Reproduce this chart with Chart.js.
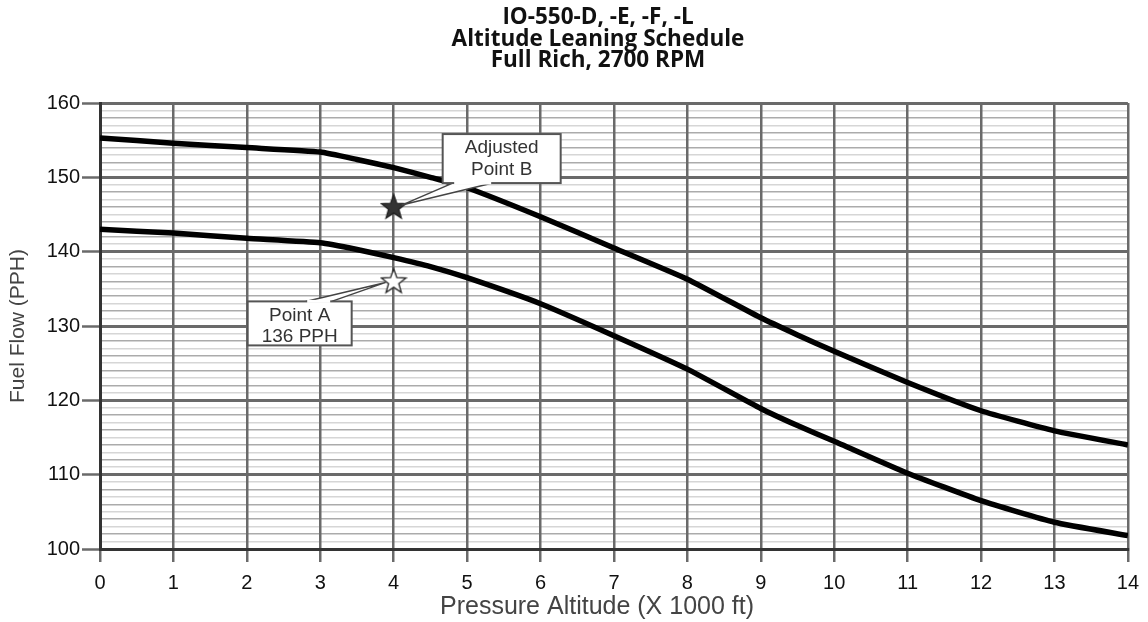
<!DOCTYPE html>
<html>
<head>
<meta charset="utf-8">
<script src="https://cdn.jsdelivr.net/npm/chart.js@4.4.1/dist/chart.umd.min.js"></script>
<style>
    html, body { margin: 0; padding: 0; background: #fff; }
    #wrap { width: 1148px; height: 622px; }
</style>
</head>
<body>
<div id="wrap"><canvas id="mainChart" width="1148" height="622"></canvas></div>
<script>
// Chart values
const altitudeKft = [0, 1, 2, 3, 3.5, 4, 4.5, 5, 6, 7, 8, 9, 9.5, 10, 11, 12, 13, 14];
const upperFlow = [155.3, 154.6, 154.0, 153.4, 152.4, 151.3, 150.0, 148.6, 144.7, 140.5, 136.3, 131.1, 128.8, 126.6, 122.4, 118.6, 115.9, 114.0];
const lowerFlow = [143.0, 142.5, 141.8, 141.2, 140.3, 139.2, 138.0, 136.5, 133.0, 128.7, 124.2, 118.9, 116.6, 114.5, 110.2, 106.5, 103.6, 101.8];
const pointB = { x: 4, y: 146 };
const pointA = { x: 4, y: 136 };
const titleLines = ['IO-550-D, -E, -F, -L', 'Altitude Leaning Schedule', 'Full Rich, 2700 RPM'];
const xTitle = 'Pressure Altitude (X 1000 ft)';
const labelB = ['Adjusted', 'Point B'];
const labelA = ['Point A', '136 PPH'];

const FONT = "'Liberation Sans', Arial, sans-serif";

// five pointed star drawn onto a small canvas, used as point style
function makeStar(fill, stroke) {
    const c = document.createElement('canvas');
    c.width = 28; c.height = 28;
    const g = c.getContext('2d');
    g.beginPath();
    for (let i = 0; i < 10; i++) {
        const r = i % 2 === 0 ? 13 : 5.4;
        const a = -Math.PI / 2 + i * Math.PI / 5;
        const px = 14 + r * Math.cos(a);
        const py = 14.5 + r * Math.sin(a);
        if (i === 0) g.moveTo(px, py); else g.lineTo(px, py);
    }
    g.closePath();
    g.fillStyle = fill;
    g.fill();
    g.lineWidth = 1.3;
    g.strokeStyle = stroke;
    g.stroke();
    return c;
}

const toXY = (ys) => altitudeKft.map((x, i) => ({ x: x, y: ys[i] }));

// title and x axis title drawn by hand so they can sit a little left of the plot centre
const titlePlugin = {
    id: 'titleLines',
    afterDraw(chart) {
        const g = chart.ctx;
        g.save();
        g.fillStyle = '#111';
        g.font = "bold 22.5px 'Open Sans', sans-serif";
        g.textAlign = 'center';
        g.textBaseline = 'middle';
        titleLines.forEach((t, i) => g.fillText(t, 598, 18 + i * 21.5));
        g.fillStyle = '#444';
        g.font = '25px ' + FONT;
        g.fillText(xTitle, 597, 607);
        g.restore();
    }
};

function callout(g, box, lines, tip, baseA, baseB) {
    // wedge
    g.beginPath();
    g.moveTo(baseA[0], baseA[1]);
    g.lineTo(tip[0], tip[1]);
    g.lineTo(baseB[0], baseB[1]);
    g.closePath();
    g.fillStyle = '#fff';
    g.fill();
    g.beginPath();
    g.moveTo(baseA[0], baseA[1]);
    g.lineTo(tip[0], tip[1]);
    g.lineTo(baseB[0], baseB[1]);
    g.lineWidth = 1.5;
    g.strokeStyle = '#444';
    g.stroke();
    // box
    g.fillStyle = '#fff';
    g.fillRect(box.x, box.y, box.w, box.h);
    g.lineWidth = 2;
    g.strokeStyle = '#555';
    g.strokeRect(box.x, box.y, box.w, box.h);
    // re-open the side where the wedge joins
    g.fillStyle = '#fff';
    const jy = baseA[1];
    g.fillRect(Math.min(baseA[0], baseB[0]) + 1.5, jy - 1.5, Math.abs(baseB[0] - baseA[0]) - 3, 3);
    g.fillStyle = '#333';
    g.font = '19px ' + FONT;
    g.textAlign = 'center';
    g.textBaseline = 'middle';
    lines.forEach((t, i) => g.fillText(t, box.x + box.w / 2, box.y + 14 + i * 21.5));
}

const calloutPlugin = {
    id: 'callouts',
    afterDatasetsDraw(chart) {
        const xs = chart.scales.x, ys = chart.scales.y;
        const g = chart.ctx;
        g.save();
        const bx = xs.getPixelForValue(pointB.x), by = ys.getPixelForValue(pointB.y);
        const ax = xs.getPixelForValue(pointA.x), ay = ys.getPixelForValue(pointA.y);
        const boxB = { x: bx + 49, y: by - 73, w: 118, h: 49 };
        callout(g, boxB, labelB, [bx + 8, by - 2], [boxB.x + 10, boxB.y + boxB.h], [boxB.x + 50, boxB.y + boxB.h]);
        const boxA = { x: ax - 146, y: ay + 20, w: 104, h: 44 };
        callout(g, boxA, labelA, [ax - 8, ay + 1], [boxA.x + 58, boxA.y], [boxA.x + 84, boxA.y]);
        g.restore();
    }
};

const ctx = document.getElementById('mainChart').getContext('2d');
const chart = new Chart(ctx, {
    type: 'line',
    data: {
        datasets: [
            {
                label: 'Adjusted Point B',
                type: 'scatter',
                data: [pointB],
                pointStyle: makeStar('#333', '#222'),
                pointRadius: 12,
                order: 0
            },
            {
                label: 'Point A',
                type: 'scatter',
                data: [pointA],
                pointStyle: makeStar('#fff', '#222'),
                pointRadius: 12,
                order: 0
            },
            {
                label: 'Upper',
                data: toXY(upperFlow),
                borderColor: '#000',
                borderWidth: 5.5,
                tension: 0.15,
                pointRadius: 0,
                borderJoinStyle: 'round',
                fill: false,
                order: 1
            },
            {
                label: 'Lower',
                data: toXY(lowerFlow),
                borderColor: '#000',
                borderWidth: 5.5,
                tension: 0.15,
                pointRadius: 0,
                borderJoinStyle: 'round',
                fill: false,
                order: 1
            }
        ]
    },
    options: {
        responsive: false,
        animation: false,
        devicePixelRatio: 1,
        layout: { padding: { top: 103, right: 20, left: 0, bottom: 0 } },
        scales: {
            // y first so the vertical grid is painted over the horizontal one
            y: {
                type: 'linear',
                min: 100,
                max: 160,
                ticks: {
                    stepSize: 1,
                    autoSkip: false,
                    padding: 2,
                    color: '#111',
                    font: { family: FONT, size: 20 },
                    callback: (v) => (v % 10 === 0 ? String(v) : '')
                },
                grid: {
                    color: (c) => {
                        const v = c.tick.value;
                        if (v % 10 === 0) return '#6a6a6a';
                        return v % 2 === 0 ? '#ababab' : '#d6d6d6';
                    },
                    lineWidth: (c) => (c.tick.value % 10 === 0 ? 3 : 1.6),
                    tickLength: 18,
                    tickColor: (c) => (c.tick.value % 10 === 0 ? '#6a6a6a' : 'rgba(0,0,0,0)'),
                    tickWidth: 2.5
                },
                border: { color: '#333', width: 3 },
                title: {
                    display: true,
                    text: 'Fuel Flow (PPH)',
                    color: '#444',
                    font: { family: FONT, size: 21 },
                    padding: { top: 6, bottom: 0 }
                },
                afterFit(scale) { scale.width = 100; }
            },
            x: {
                type: 'linear',
                min: 0,
                max: 14,
                ticks: {
                    stepSize: 1,
                    autoSkip: false,
                    maxRotation: 0,
                    padding: 9,
                    color: '#111',
                    font: { family: FONT, size: 20 }
                },
                grid: {
                    color: '#6a6a6a',
                    lineWidth: 2.5,
                    tickLength: 13,
                    tickColor: '#6a6a6a',
                    tickWidth: 2.5
                },
                border: { color: '#333', width: 3 },
                title: { display: false },
                afterFit(scale) { scale.height = 73; }
            }
        },
        plugins: {
            legend: { display: false },
            title: { display: false },
            tooltip: { enabled: false }
        }
    },
    plugins: [calloutPlugin, titlePlugin]
});
</script>
</body>
</html>
